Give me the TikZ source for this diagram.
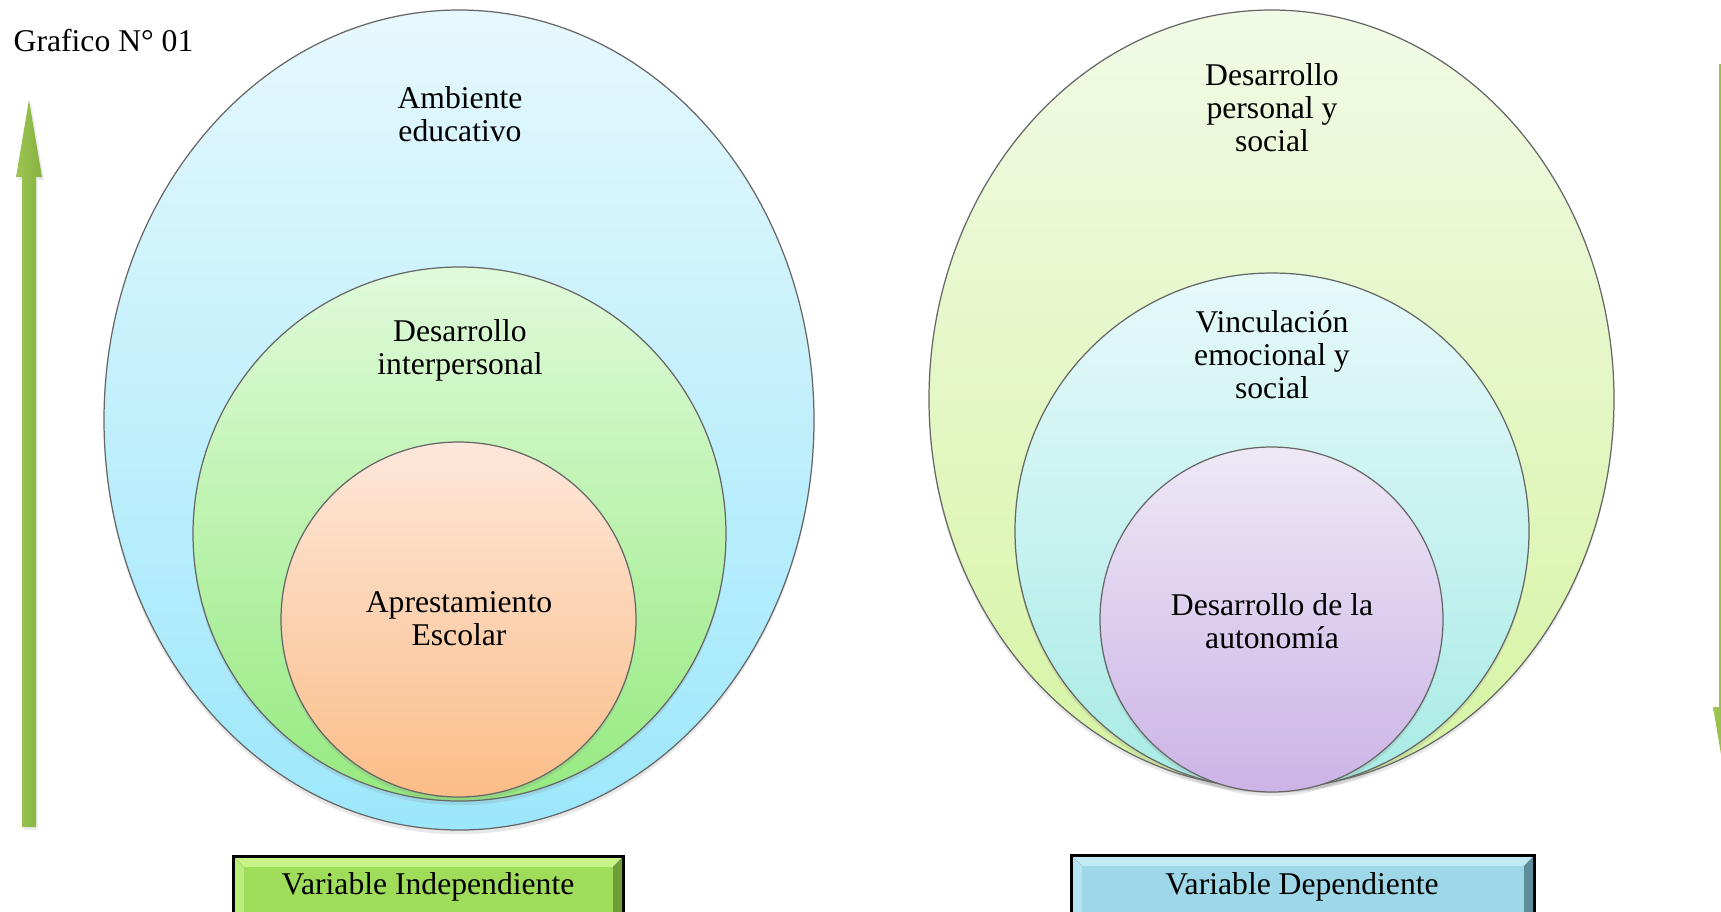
\documentclass[tikz,border=0pt]{standalone}
\usepackage{fontspec}
\setmainfont{Liberation Serif}
\usetikzlibrary{shadows}
\definecolor{blueT}{HTML}{E6F8FD}
\definecolor{blueB}{HTML}{9CE7FB}
\definecolor{greenT}{HTML}{E0FADA}
\definecolor{greenB}{HTML}{96EA80}
\definecolor{orangeT}{HTML}{FDE7DA}
\definecolor{orangeB}{HTML}{FBBD88}
\definecolor{ygT}{HTML}{F1FAE6}
\definecolor{ygB}{HTML}{D6F4A2}
\definecolor{cyanT}{HTML}{E6F9F9}
\definecolor{cyanB}{HTML}{A8EBE5}
\definecolor{purT}{HTML}{EEE8F6}
\definecolor{purB}{HTML}{CBB4E6}
\definecolor{arrL}{HTML}{9DC655}
\definecolor{arrR}{HTML}{86B13E}
\definecolor{boxG}{HTML}{9EDC5A}
\definecolor{boxGl}{HTML}{C6F487}
\definecolor{boxGd}{HTML}{6E9E3A}
\definecolor{boxB}{HTML}{9ED8E8}
\definecolor{boxBl}{HTML}{C0EAF4}
\definecolor{boxBd}{HTML}{5E8E9C}
\tikzset{
  ring/.style={draw=black!60, line width=0.35pt,
     drop shadow={opacity=0.18, shadow xshift=0pt, shadow yshift=-1.2pt}},
  lbl/.style={align=center, inner sep=0pt, font=\fontsize{9}{9.4}\selectfont},
  arrowshape/.style={left color=arrL, right color=arrR, draw=none,
     drop shadow={opacity=0.15, shadow xshift=0.6pt, shadow yshift=-0.8pt}}
}
\begin{document}
\begin{tikzpicture}[x=0.01cm,y=-0.01cm]
\useasboundingbox (0,0) rectangle (1721,911);
\begin{scope}
\clip (0,0) rectangle (1721,911);
\fill[white] (0,0) rectangle (1721,911);

% left group
\draw[ring, top color=blueT, bottom color=blueB] (459,420) ellipse [x radius=355, y radius=410];
\draw[ring, top color=greenT, bottom color=greenB] (459.5,534) ellipse [x radius=266.5, y radius=267];
\draw[ring, top color=orangeT, bottom color=orangeB] (458.5,619.5) ellipse [x radius=177.5, y radius=177.5];

% right group
\draw[ring, top color=ygT, bottom color=ygB] (1271.5,399) ellipse [x radius=342.5, y radius=389];
\draw[ring, top color=cyanT, bottom color=cyanB] (1272,531) ellipse [x radius=257, y radius=258];
\draw[ring, top color=purT, bottom color=purB] (1271.5,619.5) ellipse [x radius=171.5, y radius=172.5];

% arrows
\path[arrowshape] (29,100) -- (42,177) -- (36,177) -- (36,827) -- (22,827) -- (22,177) -- (16,177) -- cycle;
\path[arrowshape] (1719,64) -- (1733,64) -- (1733,707) -- (1739,707) -- (1726,784) -- (1713,707) -- (1719,707) -- cycle;

% boxes
\fill[black] (232,855) rectangle (625,925);
\fill[boxGl] (235,858) -- (622,858) -- (613,867) -- (244,867) -- cycle;
\fill[boxGl!70!boxG] (235,858) -- (244,867) -- (244,913) -- (235,922) -- cycle;
\fill[boxGd] (622,858) -- (613,867) -- (613,913) -- (622,922) -- cycle;
\fill[boxG] (244,867) rectangle (613,913);

\fill[black] (1070,854) rectangle (1536,925);
\fill[boxBl] (1073,857) -- (1533,857) -- (1524,866) -- (1082,866) -- cycle;
\fill[boxBl!70!boxB] (1073,857) -- (1082,866) -- (1082,913) -- (1073,922) -- cycle;
\fill[boxBd] (1533,857) -- (1524,866) -- (1524,913) -- (1533,922) -- cycle;
\fill[boxB] (1082,866) rectangle (1524,913);
\end{scope}

% texts
\node[lbl, anchor=base west] (title) at (13,51) {Grafico N° 01};
\node[lbl] (amb) at (460,114) {Ambiente\\educativo};
\node[lbl] (inter) at (460,350) {Desarrollo\\interpersonal};
\node[lbl] (apr) at (459,619) {Aprestamiento\\Escolar};
\node[lbl] (dps) at (1272,108) {Desarrollo\\personal y\\social};
\node[lbl] (vin) at (1272,355) {Vinculación\\emocional y\\social};
\node[lbl] (aut) at (1272,621) {Desarrollo de la\\autonomía};
\node[lbl] (vi) at (428,887) {Variable Independiente};
\node[lbl] (vd) at (1302,887) {Variable Dependiente};
\end{tikzpicture}
\end{document}
